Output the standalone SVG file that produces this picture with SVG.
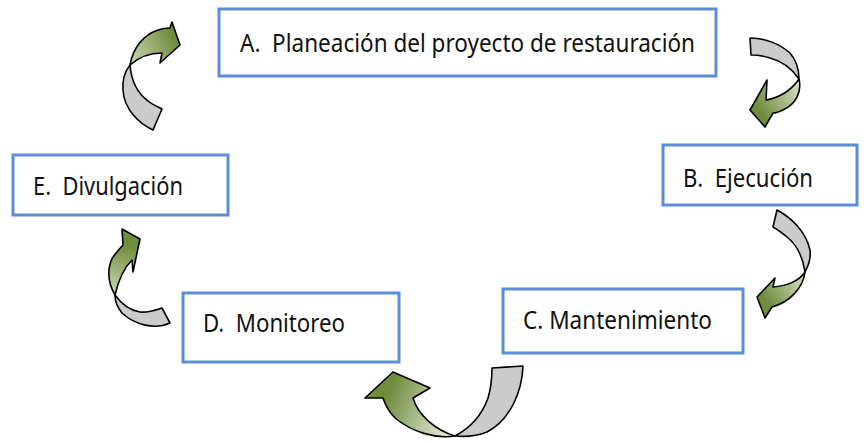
<svg xmlns="http://www.w3.org/2000/svg" width="867" height="443" viewBox="0 0 867 443">
<style>
.box{fill:#fff;stroke:#5B8ED6;stroke-width:3}
.lbl{font-family:"Noto Sans","Open Sans",sans-serif;font-size:26px;fill:#111;white-space:pre}
.tail{fill:#CBCBCB;stroke:#000;stroke-width:1.6;stroke-linejoin:round}
.head{stroke:#000;stroke-width:1.6;stroke-linejoin:round}
</style>
<defs>
<linearGradient id="g1" gradientUnits="userSpaceOnUse" x1="175" y1="40" x2="130" y2="62"><stop offset="0" stop-color="#6F8C3C"/><stop offset="1" stop-color="#C9D8B0"/></linearGradient>
<linearGradient id="g2" gradientUnits="userSpaceOnUse" x1="758" y1="108" x2="799" y2="82"><stop offset="0" stop-color="#6F8C3C"/><stop offset="1" stop-color="#D6E1C6"/></linearGradient>
<linearGradient id="g3" gradientUnits="userSpaceOnUse" x1="765" y1="300" x2="805" y2="274"><stop offset="0" stop-color="#6F8C3C"/><stop offset="1" stop-color="#D6E1C6"/></linearGradient>
<linearGradient id="g4" gradientUnits="userSpaceOnUse" x1="385" y1="400" x2="455" y2="430"><stop offset="0" stop-color="#6F8C3C"/><stop offset="1" stop-color="#EEF2E8"/></linearGradient>
<linearGradient id="g5" gradientUnits="userSpaceOnUse" x1="128" y1="245" x2="115" y2="295"><stop offset="0" stop-color="#6F8C3C"/><stop offset="1" stop-color="#C9D8B0"/></linearGradient>
</defs>
<g id="connectors">
<g id="arrow-E-A">
<path class="tail" d="M153,130 C140,124 124,110 123,90 C122,78 126,70 130,65 C131,78 136,92 148,101 C153,105 158,107 162,109 Z"/>
<path class="head" fill="url(#g1)" d="M130,65 C133,48 143,35 158,30 C163,28 167,28 170,28 L172,22 L180,45 L160,63 L162,53 C152,53 140,56 130,65 Z"/>
</g>
<g id="arrow-A-B">
<path class="tail" d="M750,38 C765,38 780,44 790,53 C796,60 799,70 799,79 C793,70 785,62 770,58 C764,56 757,55 751,55 Z"/>
<path class="head" fill="url(#g2)" d="M799,79 C802,92 796,104 783,110 C779,112 776,113 773,113 L765,127 L750,110 L767,80 L766,100 C777,98 790,92 799,79 Z"/>
</g>
<g id="arrow-B-C">
<path class="tail" d="M777,210 C792,218 806,232 810,250 C811,260 808,266 805,272 C803,258 797,245 787,237 C782,233 777,229 773,227 Z"/>
<path class="head" fill="url(#g3)" d="M805,272 C803,288 790,302 772,307 L765,318 L757,297 L775,278 L773,287 C788,286 800,280 805,272 Z"/>
</g>
<g id="arrow-C-D">
<path class="tail" d="M492,368 L523,366 C522,392 510,420 487,432 C477,436 465,437 455,436 C470,428 482,415 488,398 C491,388 492,378 492,368 Z"/>
<path class="head" fill="url(#g4)" d="M455,436 C435,439 412,432 395,418 C388,411 385,404 383,398 L365,398 L393,372 L430,388 L413,398 C418,415 435,430 455,436 Z"/>
</g>
<g id="arrow-D-E">
<path class="tail" d="M170,323 C155,330 135,325 122,313 C117,307 115,300 115,295 C120,302 127,310 140,312 C148,313 156,310 162,308 Z"/>
<path class="head" fill="url(#g5)" d="M115,295 C106,280 107,262 117,252 C119,249 121,247 123,245 L122,229 L140,239 L133,272 L132,260 C124,268 118,282 115,295 Z"/>
</g>
</g>
<g id="node-A">
<rect class="box" x="219" y="9" width="497" height="67"/>
<text class="lbl" x="240" y="52" textLength="455" lengthAdjust="spacingAndGlyphs">A.  Planeación del proyecto de restauración</text>
</g>
<g id="node-B">
<rect class="box" x="663" y="145" width="194" height="60"/>
<text class="lbl" x="683" y="187" textLength="130" lengthAdjust="spacingAndGlyphs">B.  Ejecución</text>
</g>
<g id="node-C">
<rect class="box" x="503" y="289" width="240" height="64"/>
<text class="lbl" x="523" y="329" textLength="189" lengthAdjust="spacingAndGlyphs">C. Mantenimiento</text>
</g>
<g id="node-D">
<rect class="box" x="183" y="293" width="216" height="69"/>
<text class="lbl" x="203" y="332" textLength="142" lengthAdjust="spacingAndGlyphs">D.  Monitoreo</text>
</g>
<g id="node-E">
<rect class="box" x="13" y="155" width="215" height="60"/>
<text class="lbl" x="33" y="195" textLength="150" lengthAdjust="spacingAndGlyphs">E.  Divulgación</text>
</g>
</svg>
